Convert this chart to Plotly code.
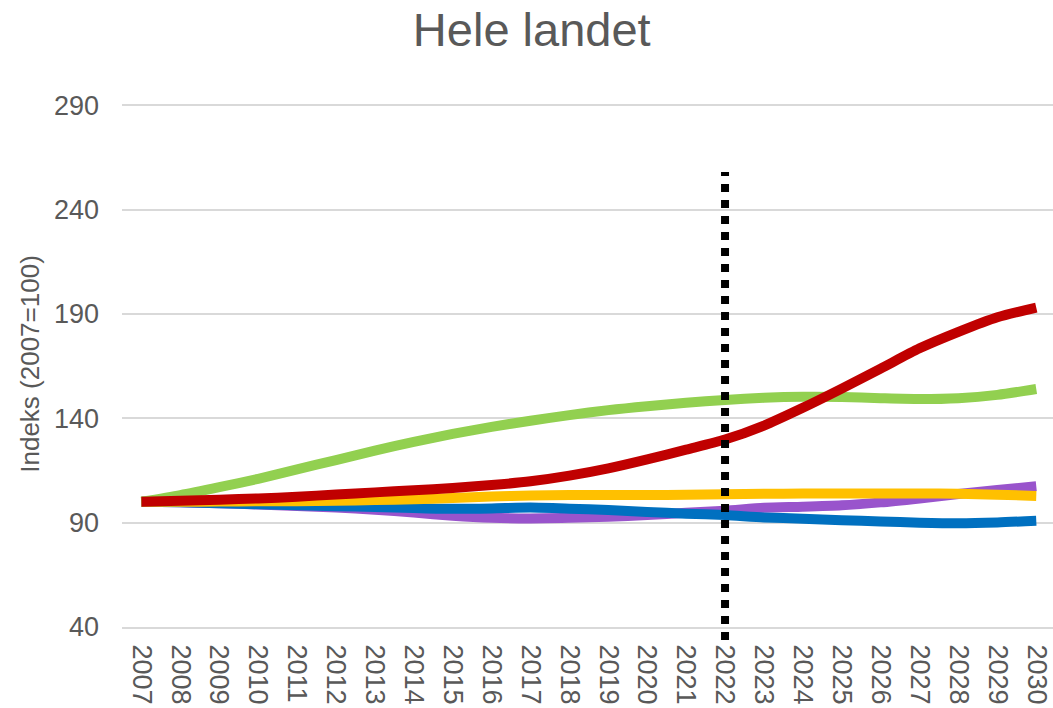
import plotly.graph_objects as go

years = list(range(2007, 2031))

series_names = ["Serie 1", "Serie 2", "Serie 3", "Serie 4", "Serie 5"]

purple = [100, 99.8, 99.3, 98.7, 98.0, 97.2, 96.2, 94.8, 93.3, 92.3, 92.0, 92.3,
          92.8, 93.6, 94.7, 95.7, 97.1, 97.6, 98.3, 99.7, 101.6, 103.7, 105.6, 107.5]
blue = [100, 99.8, 99.3, 98.8, 98.3, 97.9, 97.5, 97.0, 96.6, 96.8, 97.2, 96.7,
        96.0, 95.1, 94.3, 93.6, 92.5, 91.9, 91.2, 90.6, 90.0, 89.7, 90.1, 90.9]
yellow = [100, 100, 100.1, 100.2, 100.3, 100.5, 100.8, 101.2, 101.8, 102.5, 103.0, 103.2,
          103.2, 103.2, 103.3, 103.6, 103.8, 103.9, 104.0, 104.0, 104.0, 103.8, 103.4, 102.8]
green = [100, 103.2, 107, 111, 115.5, 120, 124.5, 128.7, 132.5, 135.9, 138.8, 141.5,
         143.9, 145.8, 147.4, 148.8, 149.8, 150.3, 150.2, 149.6, 149.2, 149.6, 151.2, 154.0]
red = [100, 100.5, 101, 101.6, 102.4, 103.5, 104.5, 105.5, 106.6, 108.0, 109.8, 112.5,
       116.0, 120.3, 125.0, 129.8, 136.5, 145.0, 154.2, 163.8, 173.5, 181.4, 188.4, 193.0]

forecast_start_year = 2022
y_ticks = [40, 90, 140, 190, 240, 290]

series = [purple, blue, yellow, green, red]
colors = ["#9954CC", "#0070C0", "#FFC000", "#92D050", "#C00000"]

fig = go.Figure()
for name, vals, col in zip(series_names, series, colors):
    fig.add_trace(go.Scatter(
        x=years, y=vals, name=name, mode="lines",
        line=dict(color=col, width=10, shape="spline", smoothing=0.7),
        showlegend=False, hoverinfo="skip",
    ))

fig.add_shape(type="line", xref="x", yref="paper",
              x0=forecast_start_year, x1=forecast_start_year,
              y0=-0.0247, y1=0.865,
              line=dict(color="black", width=8, dash="dot"))

font_family = "Liberation Sans, Arial, sans-serif"
grey = "#595959"

fig.update_layout(
    width=1053, height=708,
    margin=dict(l=122, r=0, t=101, b=81),
    paper_bgcolor="white", plot_bgcolor="white",
    font=dict(family=font_family, color=grey),
    title=dict(text="Hele landet", x=0.505, xanchor="center", xref="container",
               y=0.958, yanchor="middle", yref="container",
               font=dict(size=47, color=grey, family=font_family)),
    xaxis=dict(range=[2006.5, 2030.43], tickvals=years, ticktext=[str(y) for y in years],
               tickangle=90, tickfont=dict(size=27, color=grey), showgrid=False,
               showline=True, linecolor="#D9D9D9", linewidth=2, zeroline=False,
               ticks="", ticklabelstandoff=10, automargin=False),
    yaxis=dict(range=[40, 292], tickvals=y_ticks, tickfont=dict(size=27, color=grey),
               showgrid=True, gridcolor="#D9D9D9", gridwidth=2, zeroline=False,
               ticks="", ticklabelstandoff=22, showline=False, automargin=False,
               title=dict(text="Indeks (2007=100)", font=dict(size=26, color=grey),
                          standoff=6)),
)

fig.write_html("out.html", config={"displayModeBar": False},
               post_script="document.body.style.margin='0';document.body.style.overflow='hidden';")
